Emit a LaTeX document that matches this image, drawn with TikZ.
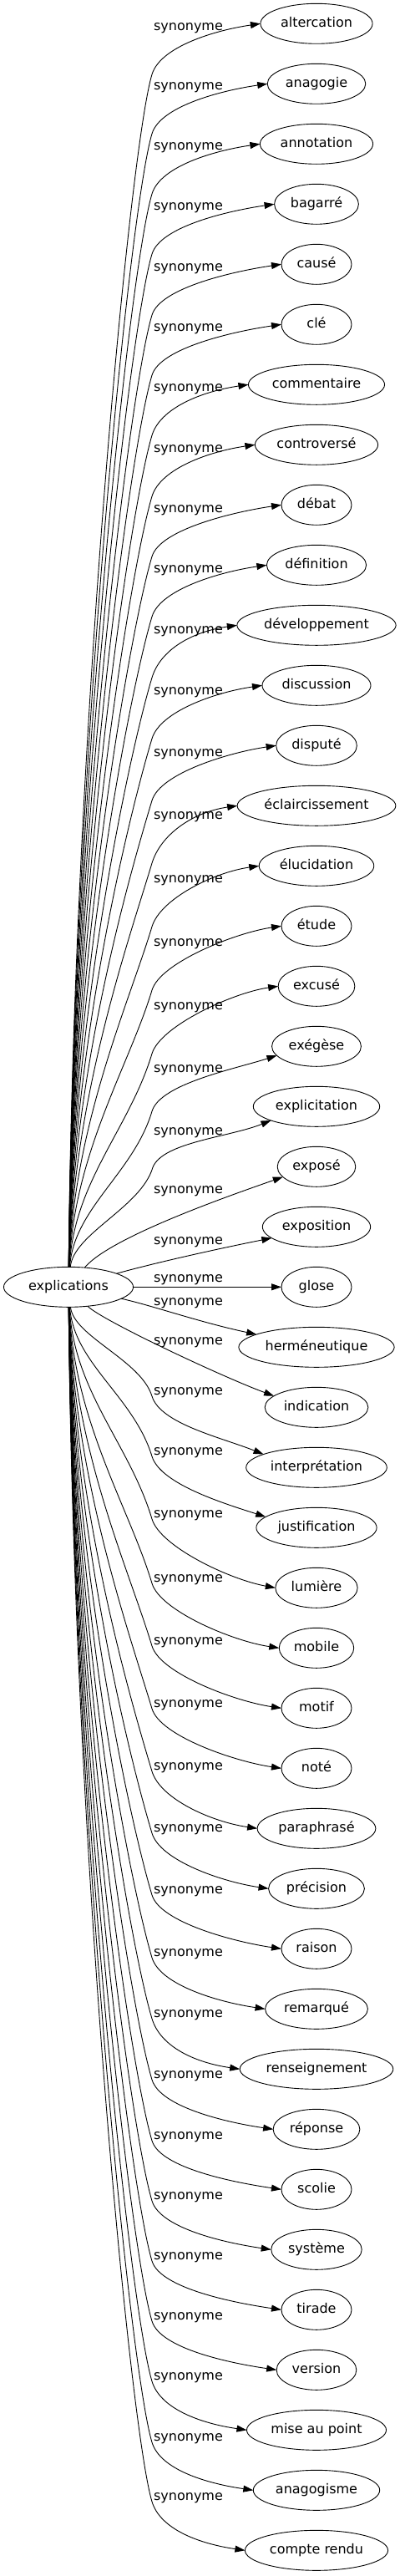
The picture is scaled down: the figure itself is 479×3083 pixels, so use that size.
\documentclass[tikz,border=0pt]{standalone}
\usepackage{fontspec}
\setmainfont{DejaVu Sans}
\usepackage{tikz}
\usetikzlibrary{
	arrows.meta,
	positioning,
	shapes.geometric,
	}

\begin{document}
\begin{tikzpicture}[x=1pt, y=-1pt, line width=0.9pt, >={Triangle[length=12pt,width=8pt]},
	every node/.style={font=\fontsize{16}{19}\selectfont},
	syn/.style={draw, ellipse, inner xsep=4.5pt, inner ysep=8pt, text height=12pt, text depth=4pt, minimum width=84pt, minimum height=48pt, outer sep=0pt},
	lbl/.style={inner sep=0pt}]
	\useasboundingbox (0,0) rectangle (479,3083);

	\node[syn, inner xsep=7pt] (explications) at (82,1540.3) {explications};

	\node[syn] (altercation) at (379,28.3) {altercation};
	\node[syn, below=24pt of altercation] (anagogie) {anagogie};
	\node[syn, below=24pt of anagogie] (annotation) {annotation};
	\node[syn, below=24pt of annotation] (bagarre) {bagarré};
	\node[syn, below=24pt of bagarre] (cause) {causé};
	\node[syn, below=24pt of cause] (cle) {clé};
	\node[syn, below=24pt of cle] (commentaire) {commentaire};
	\node[syn, below=24pt of commentaire] (controverse) {controversé};
	\node[syn, below=24pt of controverse] (debat) {débat};
	\node[syn, below=24pt of debat] (definition) {définition};
	\node[syn, below=24pt of definition] (developpement) {développement};
	\node[syn, below=24pt of developpement] (discussion) {discussion};
	\node[syn, below=24pt of discussion] (dispute) {disputé};
	\node[syn, below=24pt of dispute] (eclaircissement) {éclaircissement};
	\node[syn, below=24pt of eclaircissement] (elucidation) {élucidation};
	\node[syn, below=24pt of elucidation] (etude) {étude};
	\node[syn, below=24pt of etude] (excuse) {excusé};
	\node[syn, below=24pt of excuse] (exegese) {exégèse};
	\node[syn, below=24pt of exegese] (explicitation) {explicitation};
	\node[syn, below=24pt of explicitation] (expose) {exposé};
	\node[syn, below=24pt of expose] (exposition) {exposition};
	\node[syn, below=24pt of exposition] (glose) {glose};
	\node[syn, below=24pt of glose] (hermeneutique) {herméneutique};
	\node[syn, below=24pt of hermeneutique] (indication) {indication};
	\node[syn, below=24pt of indication] (interpretation) {interprétation};
	\node[syn, below=24pt of interpretation] (justification) {justification};
	\node[syn, below=24pt of justification] (lumiere) {lumière};
	\node[syn, below=24pt of lumiere] (mobile) {mobile};
	\node[syn, below=24pt of mobile] (motif) {motif};
	\node[syn, below=24pt of motif] (note) {noté};
	\node[syn, below=24pt of note] (paraphrase) {paraphrasé};
	\node[syn, below=24pt of paraphrase] (precision) {précision};
	\node[syn, below=24pt of precision] (raison) {raison};
	\node[syn, below=24pt of raison] (remarque) {remarqué};
	\node[syn, below=24pt of remarque] (renseignement) {renseignement};
	\node[syn, below=24pt of renseignement] (reponse) {réponse};
	\node[syn, below=24pt of reponse] (scolie) {scolie};
	\node[syn, below=24pt of scolie] (systeme) {système};
	\node[syn, below=24pt of systeme] (tirade) {tirade};
	\node[syn, below=24pt of tirade] (version) {version};
	\node[syn, below=24pt of version] (miseaupoint) {mise au point};
	\node[syn, below=24pt of miseaupoint] (anagogisme) {anagogisme};
	\node[syn, below=24pt of anagogisme] (compterendu) {compte rendu};

	\node[lbl] (l0) at (225.5,34) {synonyme};
	\node[lbl] (l1) at (225.5,105) {synonyme};
	\node[lbl] (l2) at (225.5,177) {synonyme};
	\node[lbl] (l3) at (225.5,249) {synonyme};
	\node[lbl] (l4) at (225.5,322) {synonyme};
	\node[lbl] (l5) at (225.5,394) {synonyme};
	\node[lbl] (l6) at (225.5,466) {synonyme};
	\node[lbl] (l7) at (225.5,539) {synonyme};
	\node[lbl] (l8) at (225.5,611) {synonyme};
	\node[lbl] (l9) at (225.5,683) {synonyme};
	\node[lbl] (l10) at (225.5,756) {synonyme};
	\node[lbl] (l11) at (225.5,829) {synonyme};
	\node[lbl] (l12) at (225.5,903) {synonyme};
	\node[lbl] (l13) at (225.5,978) {synonyme};
	\node[lbl] (l14) at (225.5,1054) {synonyme};
	\node[lbl] (l15) at (225.5,1130) {synonyme};
	\node[lbl] (l16) at (225.5,1206) {synonyme};
	\node[lbl] (l17) at (225.5,1281) {synonyme};
	\node[lbl] (l18) at (225.5,1356) {synonyme};
	\node[lbl] (l19) at (225.5,1426) {synonyme};
	\node[lbl] (l20) at (225.5,1487) {synonyme};
	\node[lbl] (l21) at (225.5,1532) {synonyme};
	\node[lbl] (l22) at (225.5,1560) {synonyme};
	\node[lbl] (l23) at (225.5,1607) {synonyme};
	\node[lbl] (l24) at (225.5,1667) {synonyme};
	\node[lbl] (l25) at (225.5,1739) {synonyme};
	\node[lbl] (l26) at (225.5,1814) {synonyme};
	\node[lbl] (l27) at (225.5,1891) {synonyme};
	\node[lbl] (l28) at (225.5,1966) {synonyme};
	\node[lbl] (l29) at (225.5,2041) {synonyme};
	\node[lbl] (l30) at (225.5,2116) {synonyme};
	\node[lbl] (l31) at (225.5,2190) {synonyme};
	\node[lbl] (l32) at (225.5,2264) {synonyme};
	\node[lbl] (l33) at (225.5,2339) {synonyme};
	\node[lbl] (l34) at (225.5,2412) {synonyme};
	\node[lbl] (l35) at (225.5,2485) {synonyme};
	\node[lbl] (l36) at (225.5,2558) {synonyme};
	\node[lbl] (l37) at (225.5,2630) {synonyme};
	\node[lbl] (l38) at (225.5,2702) {synonyme};
	\node[lbl] (l39) at (225.5,2774) {synonyme};
	\node[lbl] (l40) at (225.5,2846) {synonyme};
	\node[lbl] (l41) at (225.5,2919) {synonyme};
	\node[lbl] (l42) at (225.5,2990) {synonyme};

	\draw[->] (explications) .. controls +(6,-653) and +(-27,90) .. (182,89) .. controls +(10,-33) and +(-55,8) .. (altercation.west);
	\draw[->] (explications) .. controls +(6,-621) and +(-27,90) .. (182,160) .. controls +(10,-33) and +(-55,8) .. (anagogie.west);
	\draw[->] (explications) .. controls +(6,-589) and +(-27,90) .. (182,232) .. controls +(10,-33) and +(-55,8) .. (annotation.west);
	\draw[->] (explications) .. controls +(6,-556) and +(-27,90) .. (182,304) .. controls +(10,-33) and +(-55,8) .. (bagarre.west);
	\draw[->] (explications) .. controls +(6,-523) and +(-27,90) .. (182,377) .. controls +(10,-33) and +(-55,8) .. (cause.west);
	\draw[->] (explications) .. controls +(6,-491) and +(-27,90) .. (182,449) .. controls +(10,-33) and +(-55,8) .. (cle.west);
	\draw[->] (explications) .. controls +(6,-459) and +(-27,90) .. (182,521) .. controls +(10,-33) and +(-55,8) .. (commentaire.west);
	\draw[->] (explications) .. controls +(6,-426) and +(-27,90) .. (182,594) .. controls +(10,-33) and +(-55,8) .. (controverse.west);
	\draw[->] (explications) .. controls +(6,-393) and +(-27,90) .. (182,666) .. controls +(10,-33) and +(-55,8) .. (debat.west);
	\draw[->] (explications) .. controls +(6,-361) and +(-27,90) .. (182,738) .. controls +(10,-33) and +(-55,8) .. (definition.west);
	\draw[->] (explications) .. controls +(6,-328) and +(-27,90) .. (182,811) .. controls +(10,-33) and +(-55,8) .. (developpement.west);
	\draw[->] (explications) .. controls +(6,-295) and +(-27,90) .. (182,884) .. controls +(10,-33) and +(-55,8) .. (discussion.west);
	\draw[->] (explications) .. controls +(6,-262) and +(-27,90) .. (182,958) .. controls +(10,-33) and +(-55,8) .. (dispute.west);
	\draw[->] (explications) .. controls +(6,-228) and +(-27,90) .. (182,1033) .. controls +(10,-33) and +(-55,8) .. (eclaircissement.west);
	\draw[->] (explications) .. controls +(6,-194) and +(-27,90) .. (182,1109) .. controls +(10,-33) and +(-55,8) .. (elucidation.west);
	\draw[->] (explications) .. controls +(6,-160) and +(-27,90) .. (182,1185) .. controls +(10,-33) and +(-55,8) .. (etude.west);
	\draw[->] (explications) .. controls +(6,-126) and +(-27,90) .. (182,1261) .. controls +(10,-33) and +(-55,8) .. (excuse.west);
	\draw[->] (explications) .. controls +(6,-94) and +(-22,74) .. (182,1330) .. controls +(10,-33) and +(-50,16) .. (exegese.193);
	\draw[->] (explications) .. controls +(6,-64) and +(-14,48) .. (183,1397) .. controls +(12,-30) and +(-50,20) .. (explicitation.197);
	\draw[->] (explications) .. controls +(50,-60) and +(-60,21) .. (expose.197);
	\draw[->] (explications) .. controls +(100,-28) and +(-70,14) .. (exposition.194);
	\draw[->] (explications) -- (glose);
	\draw[->] (explications) .. controls +(100,22) and +(-70,-15) .. (hermeneutique.168);
	\draw[->] (explications) .. controls +(40,40) and +(-60,-22) .. (indication.165);
	\draw[->] (explications) .. controls +(6,59) and +(-13,-43) .. (182,1671) .. controls +(10,33) and +(-50,-20) .. (interpretation.166);
	\draw[->] (explications) .. controls +(6,91) and +(-22,-72) .. (182,1743) .. controls +(10,33) and +(-50,-16) .. (justification.168);
	\draw[->] (explications) .. controls +(6,125) and +(-27,-90) .. (182,1818) .. controls +(10,33) and +(-55,-10) .. (lumiere.west);
	\draw[->] (explications) .. controls +(6,160) and +(-27,-90) .. (182,1895) .. controls +(10,33) and +(-55,-8) .. (mobile.west);
	\draw[->] (explications) .. controls +(6,194) and +(-27,-90) .. (182,1970) .. controls +(10,33) and +(-55,-8) .. (motif.west);
	\draw[->] (explications) .. controls +(6,227) and +(-27,-90) .. (182,2045) .. controls +(10,33) and +(-55,-8) .. (note.west);
	\draw[->] (explications) .. controls +(6,261) and +(-27,-90) .. (182,2120) .. controls +(10,33) and +(-55,-8) .. (paraphrase.west);
	\draw[->] (explications) .. controls +(6,294) and +(-27,-90) .. (182,2194) .. controls +(10,33) and +(-55,-8) .. (precision.west);
	\draw[->] (explications) .. controls +(6,328) and +(-27,-90) .. (182,2268) .. controls +(10,33) and +(-55,-8) .. (raison.west);
	\draw[->] (explications) .. controls +(6,361) and +(-27,-90) .. (182,2343) .. controls +(10,33) and +(-55,-8) .. (remarque.west);
	\draw[->] (explications) .. controls +(6,394) and +(-27,-90) .. (182,2416) .. controls +(10,33) and +(-55,-8) .. (renseignement.west);
	\draw[->] (explications) .. controls +(6,427) and +(-27,-90) .. (182,2489) .. controls +(10,33) and +(-55,-8) .. (reponse.west);
	\draw[->] (explications) .. controls +(6,460) and +(-27,-90) .. (182,2562) .. controls +(10,33) and +(-55,-8) .. (scolie.west);
	\draw[->] (explications) .. controls +(6,492) and +(-27,-90) .. (182,2634) .. controls +(10,33) and +(-55,-8) .. (systeme.west);
	\draw[->] (explications) .. controls +(6,525) and +(-27,-90) .. (182,2706) .. controls +(10,33) and +(-55,-8) .. (tirade.west);
	\draw[->] (explications) .. controls +(6,557) and +(-27,-90) .. (182,2778) .. controls +(10,33) and +(-55,-8) .. (version.west);
	\draw[->] (explications) .. controls +(6,590) and +(-27,-90) .. (182,2850) .. controls +(10,33) and +(-55,-8) .. (miseaupoint.west);
	\draw[->] (explications) .. controls +(6,622) and +(-27,-90) .. (182,2923) .. controls +(10,33) and +(-55,-8) .. (anagogisme.west);
	\draw[->] (explications) .. controls +(6,654) and +(-27,-90) .. (182,2994) .. controls +(10,33) and +(-55,-8) .. (compterendu.west);
\end{tikzpicture}
\end{document}
